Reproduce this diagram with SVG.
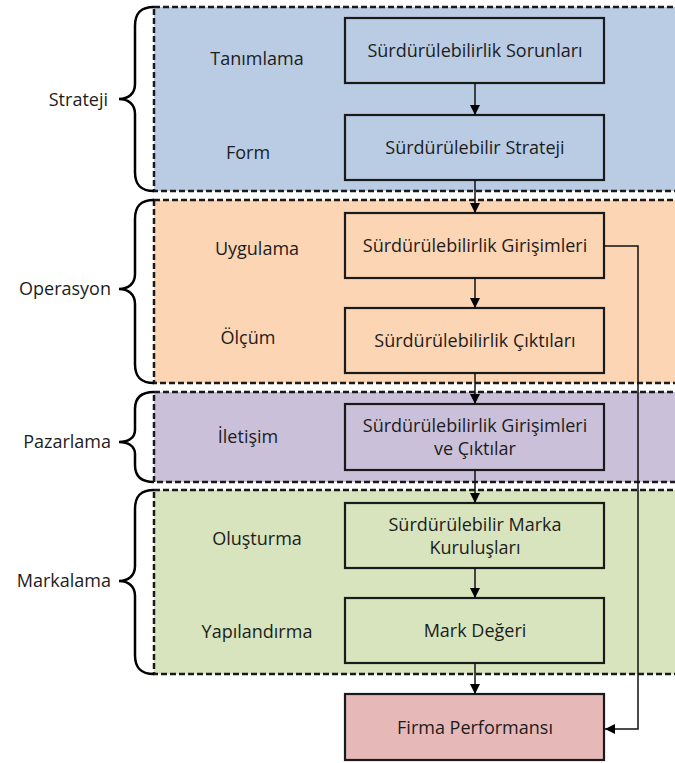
<svg xmlns="http://www.w3.org/2000/svg" width="675" height="763" viewBox="0 0 675 763">
<defs>
<style>
.band{stroke:#1a1a1a;stroke-width:2.5;stroke-dasharray:6 3}
.box{stroke:#1a1a1a;stroke-width:2.2}
.brace{fill:none;stroke:#000;stroke-width:2.5}
text{font-family:"Open Sans","Noto Sans",sans-serif;font-size:18px;fill:#1c1c1c}
.c{text-anchor:middle}
.r{text-anchor:end}
.conn{fill:none;stroke:#111;stroke-width:1.5}
</style>
<marker id="ah" viewBox="0 0 10 10" refX="10" refY="5" markerWidth="10" markerHeight="10" markerUnits="userSpaceOnUse" orient="auto">
<path d="M0,0 L10,5 L0,10 z" fill="#000"/>
</marker>
</defs>

<g id="band-strateji">
<rect class="band" x="154" y="7" width="540" height="184" fill="#b9cce4"/>
<path class="brace" d="M154,7 C140,7 135,14 135,26 L135,84 C135,94 128,99 119,99 C128,99 135,104 135,114 L135,172 C135,184 140,191 154,191"/>
<text class="r" x="108" y="106">Strateji</text>
<text class="c" x="257" y="65">Tanımlama</text>
<text class="c" x="248" y="159">Form</text>
</g>
<g id="band-operasyon">
<rect class="band" x="154" y="200" width="540" height="183" fill="#fcd5b5"/>
<path class="brace" d="M154,200 C140,200 135,207 135,219 L135,274 C135,284 128,289 119,289 C128,289 135,294 135,304 L135,364 C135,376 140,383 154,383"/>
<text class="r" x="111" y="295">Operasyon</text>
<text class="c" x="257" y="255">Uygulama</text>
<text class="c" x="248" y="344">Ölçüm</text>
</g>
<g id="band-pazarlama">
<rect class="band" x="154" y="392" width="540" height="90" fill="#cbc0da"/>
<path class="brace" d="M154,392 C140,392 135,399 135,409 L135,430 C135,438 128,442 119,442 C128,442 135,446 135,454 L135,465 C135,475 140,482 154,482"/>
<text class="r" x="111" y="448">Pazarlama</text>
<text class="c" x="248" y="443">İletişim</text>
</g>
<g id="band-markalama">
<rect class="band" x="154" y="490" width="540" height="184" fill="#d7e4bd"/>
<path class="brace" d="M154,490 C140,490 135,497 135,509 L135,566 C135,576 128,581 119,581 C128,581 135,586 135,596 L135,655 C135,667 140,674 154,674"/>
<text class="r" x="111" y="587">Markalama</text>
<text class="c" x="257" y="545">Oluşturma</text>
<text class="c" x="257" y="638">Yapılandırma</text>
</g>

<g id="n1"><rect class="box" x="345" y="18" width="259" height="65" fill="#b9cce4"/><text class="c" x="475" y="57">Sürdürülebilirlik Sorunları</text></g>
<g id="n2"><rect class="box" x="345" y="115" width="259" height="65" fill="#b9cce4"/><text class="c" x="475" y="154">Sürdürülebilir Strateji</text></g>
<g id="n3"><rect class="box" x="345" y="213" width="259" height="65" fill="#fcd5b5"/><text class="c" x="475" y="252">Sürdürülebilirlik Girişimleri</text></g>
<g id="n4"><rect class="box" x="345" y="308" width="259" height="65" fill="#fcd5b5"/><text class="c" x="475" y="347">Sürdürülebilirlik Çıktıları</text></g>
<g id="n5"><rect class="box" x="345" y="404" width="259" height="66" fill="#cbc0da"/><text class="c" x="475" y="432">Sürdürülebilirlik Girişimleri</text><text class="c" x="475" y="455">ve Çıktılar</text></g>
<g id="n6"><rect class="box" x="345" y="503" width="259" height="65" fill="#d7e4bd"/><text class="c" x="475" y="531">Sürdürülebilir Marka</text><text class="c" x="475" y="554">Kuruluşları</text></g>
<g id="n7"><rect class="box" x="345" y="598" width="259" height="65" fill="#d7e4bd"/><text class="c" x="475" y="637">Mark Değeri</text></g>
<g id="n8"><rect class="box" x="345" y="694" width="259" height="66" fill="#e6b9b8"/><text class="c" x="475" y="734">Firma Performansı</text></g>

<g id="connectors">
<path class="conn" d="M475,83 V115" marker-end="url(#ah)"/>
<path class="conn" d="M475,180 V213" marker-end="url(#ah)"/>
<path class="conn" d="M475,278 V308" marker-end="url(#ah)"/>
<path class="conn" d="M475,373 V404" marker-end="url(#ah)"/>
<path class="conn" d="M475,470 V503" marker-end="url(#ah)"/>
<path class="conn" d="M475,568 V598" marker-end="url(#ah)"/>
<path class="conn" d="M475,663 V694" marker-end="url(#ah)"/>
<path class="conn" d="M604,246 H638 V729 H605" marker-end="url(#ah)"/>
</g>
</svg>
